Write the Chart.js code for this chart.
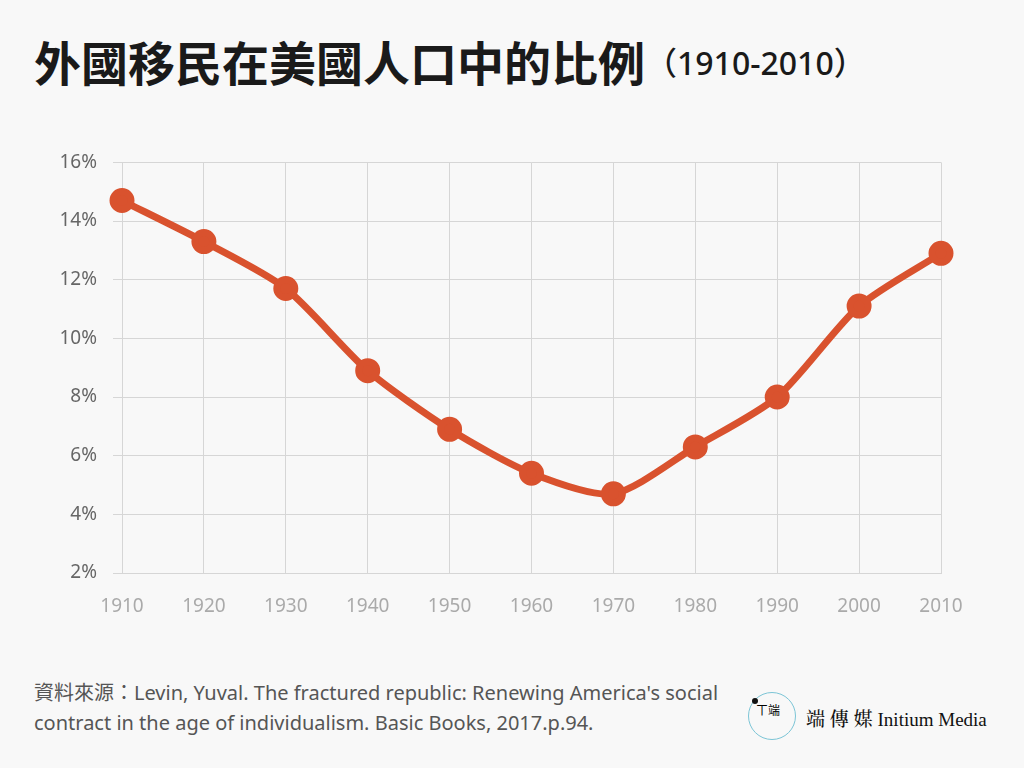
<!DOCTYPE html>
<html><head><meta charset="utf-8">
<script src="https://cdn.jsdelivr.net/npm/chart.js@4"></script>
<style>
body{margin:0;width:1024px;height:768px;background:#f8f8f8;position:relative;overflow:hidden;font-family:"Noto Sans","Noto Sans CJK TC",sans-serif}
#title{position:absolute;left:34px;top:26px;font:700 47px "Noto Sans CJK TC";color:#1a1a1a;letter-spacing:0px;white-space:nowrap}
#title span{font:500 32px "Noto Sans","Noto Sans CJK TC";letter-spacing:0;vertical-align:6px}
#wrap{position:absolute;left:0;top:135px;width:1024px;height:495px}
#src{position:absolute;left:34px;top:678px;font:400 20px "Noto Sans","Noto Sans CJK TC";color:#555;line-height:30px}
#logo{position:absolute;left:748px;top:692px;width:46px;height:46px;border:1.5px solid #7cc5d6;border-radius:50%}
#logo b{position:absolute;left:3px;top:5px;width:6px;height:6px;background:#111;border-radius:50%}
#logo i{position:absolute;left:7px;top:8px;font:12px "Noto Sans CJK TC";font-style:normal}
#brand{position:absolute;left:806px;top:704px;font:500 19px "Noto Serif CJK TC","Noto Sans CJK TC";color:#111}
#brand span{font:19px "Liberation Serif";}
</style></head><body>
<div id="title">外國移民在美國人口中的比例<span>（1910-2010）</span></div>
<div id="wrap"><canvas id="c"></canvas></div>
<div id="src">資料來源：Levin, Yuval. The fractured republic: Renewing America's social<br>contract in the age of individualism. Basic Books, 2017.p.94.</div>
<div id="logo"><b></b><i>ㄒ端</i></div>
<div id="brand">端 傳 媒 <span>Initium Media</span></div>
<script>
const years=["1910","1920","1930","1940","1950","1960","1970","1980","1990","2000","2010"];
const shares=[14.7,13.3,11.7,8.9,6.9,5.4,4.7,6.3,8.0,11.1,12.9];
new Chart(document.getElementById('c'),{type:'line',
data:{labels:years,datasets:[{data:shares,borderColor:'#d9522e',backgroundColor:'#d9522e',borderWidth:7,pointRadius:9,pointHoverRadius:9,tension:0.25}]},
options:{responsive:true,maintainAspectRatio:false,animation:false,
layout:{padding:{left:0,right:83,top:12,bottom:0}},
plugins:{legend:{display:false},tooltip:{enabled:false}},
scales:{
x:{grid:{color:'#d6d6d6',tickLength:0},border:{color:'#d6d6d6'},ticks:{color:'#aaa',font:{size:19,family:'Noto Sans'},padding:22,maxRotation:0},afterFit:s=>{s.height=57}},
y:{min:2,max:16,grid:{color:'#d6d6d6',tickLength:9},border:{display:false},ticks:{stepSize:2,color:'#666',font:{size:19,family:'Noto Sans'},padding:16,callback:v=>v+'%'},afterFit:s=>{s.width=122}}
}}});
</script>
</body></html>
